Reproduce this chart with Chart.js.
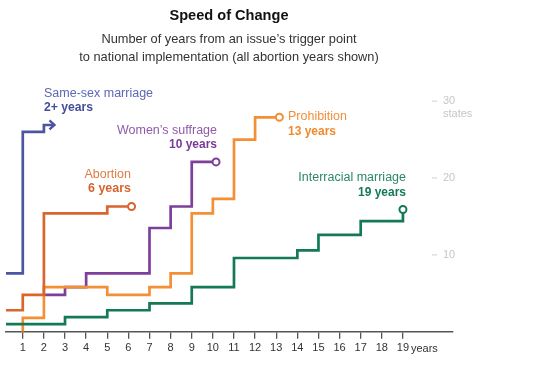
<!DOCTYPE html>
<html>
<head>
<meta charset="utf-8">
<title>Speed of Change</title>
<script src="https://cdn.jsdelivr.net/npm/chart.js@4.4.1/dist/chart.umd.min.js"></script>
<style>
    html, body { margin: 0; padding: 0; background: #fff; }
    canvas { display: block; }
</style>
</head>
<body>
<canvas id="speed-chart" width="560" height="365"></canvas>
<script>
    // Axis ticks: years after the trigger point, and states on the right
    var yearTicks = [1, 2, 3, 4, 5, 6, 7, 8, 9, 10, 11, 12, 13, 14, 15, 16, 17, 18, 19];
    var stateTicks = [10, 20, 30];

    // Same-sex marriage (still running, hence the arrow)
    var sameSexYears = [0, 1, 2, 2.5];
    var sameSexStates = [7.6, 26.0, 26.9, 26.9];

    // Abortion
    var abortionYears = [0, 1, 2, 5, 6.15];
    var abortionStates = [2.8, 4.8, 15.4, 16.3, 16.3];

    // Women's suffrage
    var suffrageYears = [2, 3, 4, 7, 8, 9, 10.15];
    var suffrageStates = [4.8, 5.8, 7.6, 13.5, 16.3, 22.1, 22.1];

    // Prohibition
    var prohibitionYears = [1, 1, 2, 5, 7, 8, 9, 10, 11, 12, 13.15];
    var prohibitionStates = [0, 1.8, 5.8, 4.8, 5.8, 7.6, 15.4, 17.3, 25.0, 27.9, 27.9];

    // Interracial marriage
    var interracialYears = [0, 3, 5, 7, 9, 11, 14, 15, 17, 19];
    var interracialStates = [1.0, 1.9, 2.8, 3.7, 5.8, 9.6, 10.6, 12.6, 14.4, 15.9];


    var font = '"Liberation Sans", Arial, sans-serif';

    function toPoints(xs, ys) {
        return xs.map(function (x, i) {
            return {x: x, y: ys[i]};
        });
    }

    // hollow circle on the last point only
    function endDot(c) {
        return c.dataIndex === c.dataset.data.length - 1 ? 3.5 : 0;
    }

    function series(points, color, dot) {
        return {
            data: points,
            borderColor: color,
            borderWidth: 2.7,
            stepped: 'before',
            fill: false,
            borderJoinStyle: 'miter',
            pointRadius: dot ? endDot : 0,
            pointBorderWidth: 2,
            pointBorderColor: color,
            pointBackgroundColor: '#fff'
        };
    }

    function drawText(ctx, str, x, y, f, color, align, maxW) {
        ctx.font = f;
        ctx.fillStyle = color;
        ctx.textAlign = align;
        if (maxW) {
            ctx.fillText(str, x, y, maxW);
        } else {
            ctx.fillText(str, x, y);
        }
    }


    // Titles, inline labels, right-hand state ticks and the arrow head
    var speedText = {
        id: 'speedText',
        afterDraw: function (chart) {
            var ctx = chart.ctx;
            var xs = chart.scales.x;
            var ys = chart.scales.y;
            ctx.save();
            ctx.textBaseline = 'middle';

            drawText(ctx, 'Speed of Change', 229, 15.5, 'bold 15px ' + font, '#111', 'center', 119);
            drawText(ctx, 'Number of years from an issue\u2019s trigger point', 229, 39.5, '12.8px ' + font, '#333', 'center');
            drawText(ctx, 'to national implementation (all abortion years shown)', 229, 57, '12.8px ' + font, '#333', 'center');

            drawText(ctx, 'Same-sex marriage', 44, 94, '12.5px ' + font, '#5e67b3', 'left', 110);
            drawText(ctx, '2+ years', 44, 108, 'bold 12.5px ' + font, '#434d9d', 'left', 49);

            drawText(ctx, 'Women\u2019s suffrage', 217, 131, '12.5px ' + font, '#8f5aab', 'right', 100);
            drawText(ctx, '10 years', 217, 144.5, 'bold 12.5px ' + font, '#7a3b98', 'right', 48);

            drawText(ctx, 'Abortion', 131, 174.5, '12.5px ' + font, '#e07c44', 'right', 48);
            drawText(ctx, '6 years', 131, 188.5, 'bold 12.5px ' + font, '#d7642e', 'right', 43);

            drawText(ctx, 'Prohibition', 288, 117, '12.5px ' + font, '#f2903a', 'left', 59);
            drawText(ctx, '13 years', 288, 131.5, 'bold 12.5px ' + font, '#ef8a2e', 'left', 48);

            drawText(ctx, 'Interracial marriage', 406, 178, '12.5px ' + font, '#2a8864', 'right', 110);
            drawText(ctx, '19 years', 406, 192.5, 'bold 12.5px ' + font, '#137a55', 'right', 48);

            // state ticks on the right
            ctx.strokeStyle = '#cfcfcf';
            ctx.lineWidth = 1;
            stateTicks.forEach(function (t) {
                var py = ys.getPixelForValue(t);
                ctx.beginPath();
                ctx.moveTo(432, py);
                ctx.lineTo(437, py);
                ctx.stroke();
                drawText(ctx, String(t), 443, py, '11px ' + font, '#c6c6c6', 'left');
            });
            drawText(ctx, 'states', 443, ys.getPixelForValue(30) + 13, '11px ' + font, '#c6c6c6', 'left');

            // unit after the last year tick
            drawText(ctx, 'years', xs.getPixelForValue(19) + 8, xs.top + 17, '11px ' + font, '#333', 'left');

            // arrow head on the same-sex line
            var meta = chart.getDatasetMeta(4);
            var last = meta.data[meta.data.length - 1];
            ctx.strokeStyle = '#4b55a3';
            ctx.lineWidth = 2.4;
            ctx.beginPath();
            ctx.moveTo(last.x - 5, last.y - 4.5);
            ctx.lineTo(last.x, last.y);
            ctx.lineTo(last.x - 5, last.y + 4.5);
            ctx.stroke();

            ctx.restore();
        }
    };


    // Stepped line chart - number of states over time per issue
    var ctx1 = document.getElementById('speed-chart').getContext('2d');
    var myChart1 = new Chart(ctx1, {
        type: 'line',
        data: {
            datasets: [
                series(toPoints(interracialYears, interracialStates), '#137a55', true),
                series(toPoints(abortionYears, abortionStates), '#d9652f', true),
                series(toPoints(prohibitionYears, prohibitionStates), '#f39035', true),
                series(toPoints(suffrageYears, suffrageStates), '#7e3f9b', true),
                series(toPoints(sameSexYears, sameSexStates), '#4b55a3', false)
            ]
        },
        options: {
            responsive: false,
            animation: false,
            devicePixelRatio: 1,
            layout: {
                padding: {top: 85, right: 107, bottom: 7, left: 0}
            },
            plugins: {
                legend: {display: false},
                tooltip: {enabled: false}
            },
            scales: {
                x: {
                    type: 'linear',
                    min: 0.2056,
                    max: 21.37,
                    afterBuildTicks: function (scale) {
                        scale.ticks = yearTicks.map(function (v) {
                            return {value: v};
                        });
                    },
                    ticks: {
                        autoSkip: false,
                        maxRotation: 0,
                        padding: 3,
                        color: '#333',
                        font: {family: font, size: 11}
                    },
                    grid: {
                        drawOnChartArea: false,
                        drawTicks: true,
                        tickLength: 7,
                        color: '#555',
                        lineWidth: 1.3
                    },
                    border: {display: true, color: '#555', width: 1.5}
                },
                y: {
                    display: false,
                    min: 0,
                    max: 32.1
                }
            }
        },
        plugins: [speedText]
    });
</script>
</body>
</html>
